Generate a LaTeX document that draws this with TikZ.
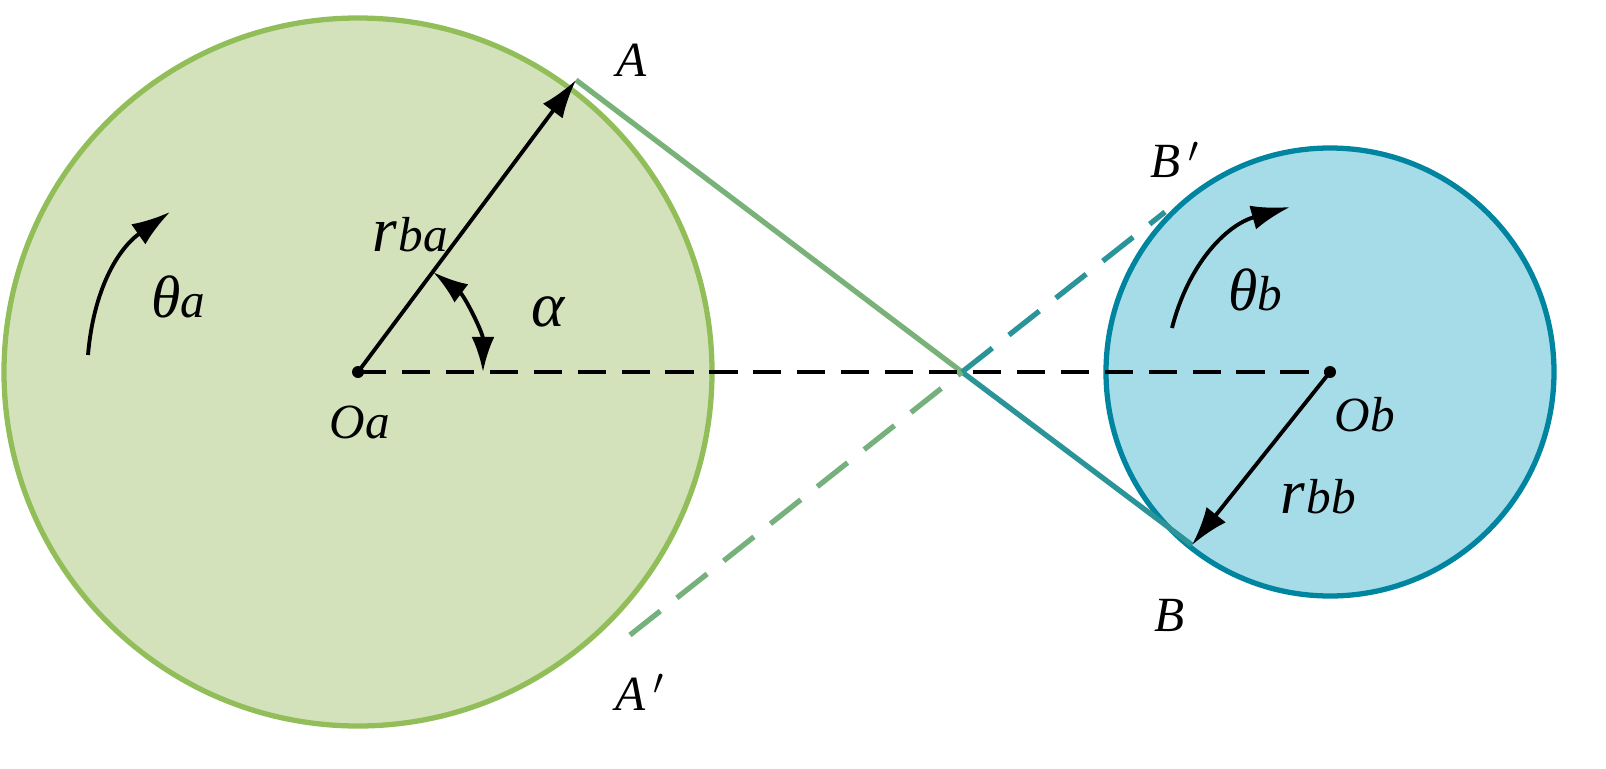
\documentclass[tikz,border=0pt]{standalone}
\usepackage{fontspec}
\setmainfont{Liberation Serif}
\usetikzlibrary{arrows.meta}
\definecolor{gfill}{RGB}{212,226,188}
\definecolor{gedge}{RGB}{146,190,90}
\definecolor{bfill}{RGB}{166,220,232}
\definecolor{bedge}{RGB}{0,133,160}
\definecolor{midc}{RGB}{104,170,140}
\begin{document}
\begin{tikzpicture}[x=0.02cm,y=-0.02cm,
  lbl/.style={font=\fontsize{28}{30}\selectfont\itshape},
  big/.style={font=\fontsize{36}{38}\selectfont\itshape},
  arr/.style={line width=2.2pt,-{Latex[length=22pt,width=14pt]}},
  darr/.style={line width=2.2pt,{Latex[length=20pt,width=13pt]}-{Latex[length=20pt,width=13pt]}}]
\useasboundingbox (0,0) rectangle (1606,768);
\coordinate (Oa) at (358,372);
\coordinate (Ob) at (1330,372);
\coordinate (A) at (576,80);
\coordinate (B) at (1192,545);
\coordinate (Ap) at (630,635);
\coordinate (Bp) at (1165,212);
\coordinate (X) at (962,372);
\draw[gedge,fill=gfill,line width=3pt] (Oa) circle[radius=354];
\draw[bedge,fill=bfill,line width=3pt] (Ob) circle[radius=224];
\draw[midc!60!gedge,line width=3pt] (A) -- (X);
\draw[midc!40!bedge,line width=3pt] (X) -- (B);
\draw[midc!70!gedge,line width=3pt,dash pattern=on 22pt off 12pt] (Ap) -- (X);
\draw[midc!40!bedge,line width=3pt,dash pattern=on 22pt off 12pt] (X) -- (Bp);
\draw[line width=2pt,dash pattern=on 16pt off 9pt] (Oa) -- (Ob);
\fill (Oa) circle[radius=6];
\fill (Ob) circle[radius=6];
\draw[arr] (Oa) -- (A);
\draw[arr] (Ob) -- (B);
\draw[darr] (Oa) ++(-53:125) arc[start angle=-53,end angle=0,radius=125];
\draw[arr] (88,355) to[bend left=25] (170,212);
\draw[arr] (1172,328) to[bend left=30] (1290,207);
\node[lbl] (lA) at (632,60) {A};
\node[lbl] (lAp) at (640,692) {A\,$'$};
\node[lbl] (lBp) at (1175,160) {B\,$'$};
\node[lbl] (lB) at (1170,615) {B};
\node[lbl] (lOa) at (360,422) {Oa};
\node[lbl] (lOb) at (1365,415) {Ob};
\node[big] (lal) at (548,312) {α};
\node[lbl] (lta) at (178,297) {{\fontsize{34}{36}\selectfont θ}a};
\node[lbl] (ltb) at (1255,290) {{\fontsize{34}{36}\selectfont θ}b};
\node[big] (lrba) at (410,235) {r\kern1pt{\fontsize{28}{30}\selectfont ba}};
\node[big] (lrbb) at (1318,497) {r\kern1pt{\fontsize{28}{30}\selectfont bb}};
\end{tikzpicture}
\end{document}
